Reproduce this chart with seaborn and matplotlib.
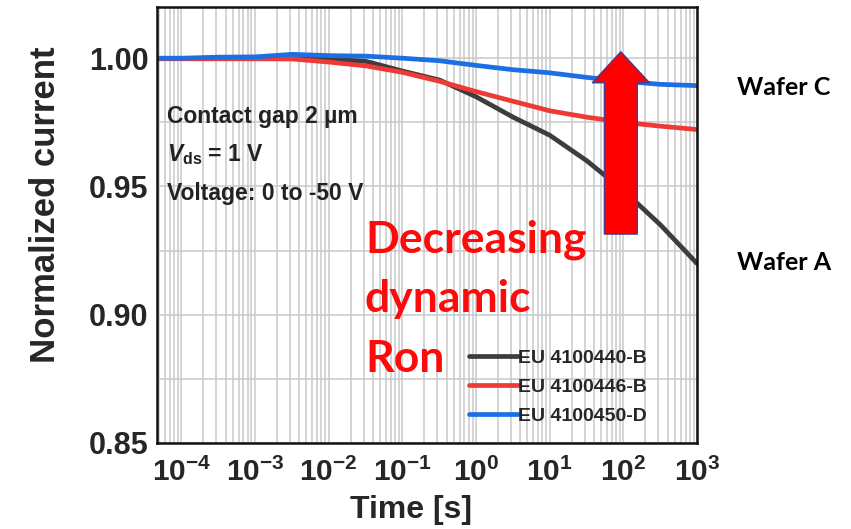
import numpy as np
import pandas as pd
import matplotlib
matplotlib.use("Agg")
import matplotlib.pyplot as plt
import seaborn as sns
from matplotlib.patches import FancyArrow
from matplotlib.ticker import LogLocator, MultipleLocator

# values
time_s = [4.7e-5, 1e-4, 3.2e-4, 1e-3, 3.2e-3, 1e-2, 3.2e-2, 0.1, 0.32, 1, 3.2, 10, 32, 100, 320, 1000]
cur_440 = [0.9998, 0.9998, 0.9998, 0.9998, 0.9998, 0.9997, 0.9988, 0.9950, 0.9915, 0.9850,
           0.9770, 0.9700, 0.9600, 0.9485, 0.9350, 0.9200]
cur_446 = [0.9998, 0.9998, 0.9998, 0.9998, 0.9997, 0.9985, 0.9970, 0.9945, 0.9910, 0.9870,
           0.9832, 0.9795, 0.9770, 0.9750, 0.9735, 0.9722]
cur_450 = [1.0000, 1.0000, 1.0004, 1.0005, 1.0015, 1.0010, 1.0008, 1.0000, 0.9990, 0.9972,
           0.9955, 0.9943, 0.9925, 0.9910, 0.9898, 0.9893]
sample_names = ["EU 4100440-B", "EU 4100446-B", "EU 4100450-D"]
line_colors = ["#3d3d3d", "#ee3a36", "#1c6fe2"]

df = pd.DataFrame({
    "time": time_s * 3,
    "current": cur_440 + cur_446 + cur_450,
    "sample": [s for s in sample_names for _ in time_s],
})

sns.set_style("white")
plt.rcParams["font.family"] = ["Liberation Sans", "DejaVu Sans"]
plt.rcParams["font.weight"] = "bold"
plt.rcParams["mathtext.fontset"] = "custom"
plt.rcParams["mathtext.rm"] = "Liberation Sans:bold"
plt.rcParams["mathtext.it"] = "Liberation Sans:italic:bold"
plt.rcParams["mathtext.bf"] = "Liberation Sans:bold"

fig = plt.figure(figsize=(8.51, 5.29), dpi=100)
ax = fig.add_axes([0.1845, 0.1626, 0.6345, 0.8244])

sns.lineplot(data=df, x="time", y="current", hue="sample", palette=line_colors,
             linewidth=3.4, ax=ax)

ax.set_xscale("log")
ax.set_xlim(4.7e-5, 1e3)
ax.set_ylim(0.85, 1.02)
ax.xaxis.set_major_locator(LogLocator(base=10, numticks=20))
ax.xaxis.set_minor_locator(LogLocator(base=10, subs=np.arange(2, 10), numticks=20))
ax.yaxis.set_major_locator(MultipleLocator(0.05))
ax.yaxis.set_minor_locator(MultipleLocator(0.025))
ax.yaxis.set_major_formatter(matplotlib.ticker.FormatStrFormatter("%.2f"))

ax.grid(which="both", color="#c9c9c9", linewidth=1.1)
ax.set_axisbelow(True)
ax.tick_params(which="major", direction="in", length=7, width=1.5, labelsize=22, pad=6)
ax.tick_params(axis="x", which="major", pad=11, labelsize=21.5)
ax.tick_params(which="minor", direction="in", length=4, width=1.2)
for sp in ax.spines.values():
    sp.set_linewidth(1.8)
    sp.set_color("#111111")

ax.set_xlabel("Time [s]", fontsize=23, fontweight="bold")
ax.set_ylabel("Normalized current", fontsize=25, fontweight="bold")
ax.xaxis.set_label_coords(0.47, -0.12)
ax.yaxis.set_label_coords(-0.176, 0.546)

ax.legend(loc="center", bbox_to_anchor=(0.743, 0.128), frameon=False,
          handlelength=2.5, handletextpad=0.0, labelspacing=0.6,
          prop={"size": 14, "weight": "bold"})

# condition notes
note_kw = dict(transform=ax.transAxes, fontsize=16.5, color="#222222", va="center")
ax.text(0.018, 0.748, "Contact gap 2 \u00b5m", **note_kw)
ax.text(0.018, 0.661, r"$\it{V}_{\rm ds}$ = 1 V", **note_kw)
ax.text(0.018, 0.573, "Voltage: 0 to -50 V", **note_kw)

red_kw = dict(transform=ax.transAxes, fontsize=32, color="#ff0a0a", va="baseline",
              family=["Lato", "DejaVu Sans"], fontweight="bold")
ax.text(0.385, 0.436, "Decreasing", **red_kw)
ax.text(0.385, 0.300, "dynamic", **red_kw)
ax.text(0.385, 0.163, "Ron", **red_kw)

arrow = FancyArrow(0.859, 0.479, 0, 0.418, width=0.061, head_width=0.106,
                   head_length=0.071, length_includes_head=True,
                   transform=ax.transAxes, facecolor="#ff0000",
                   edgecolor="#4b3b8a", linewidth=1.0, zorder=5)
ax.add_patch(arrow)

wafer_kw = dict(fontsize=18, fontweight="bold", color="black", va="center",
                family=["Lato", "DejaVu Sans"])
fig.text(0.866, 0.8355, "Wafer C", **wafer_kw)
fig.text(0.866, 0.503, "Wafer A", **wafer_kw)

fig.savefig("out.png", dpi=100)
